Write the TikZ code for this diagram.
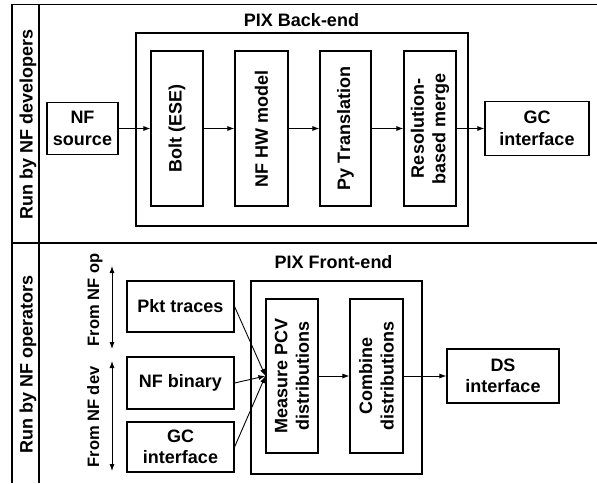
\documentclass[tikz,border=0pt]{standalone}
\usepackage{fontspec}
\setmainfont{Liberation Sans}
\usetikzlibrary{arrows.meta}

\begin{document}
\begin{tikzpicture}[x=1pt,y=-1pt,>={Latex[length=7pt,width=5pt]},every node/.style={font=\fontsize{18}{21.5}\selectfont\bfseries}]
\tikzstyle{b}=[draw,line width=1.1pt,inner sep=0,align=center]
\tikzstyle{v}=[b,rotate=90]
\tikzstyle{side}=[rotate=90,anchor=base]
\tikzstyle{fr}=[line width=1.6pt]
\tikzstyle{c}=[->,line width=0.9pt]
\useasboundingbox (0,0) rectangle (597,483);
% outer frame
\draw[fr] (597,4.5) -- (12,4.5) -- (12,483);
\draw[fr] (39,4.5) -- (39,483);
\draw[fr] (12,243) -- (597,243);
\node[side] (dev) at (32.5,124.5) {Run by NF developers};
\node[side] (ops) at (32.5,364.5) {Run by NF operators};
% back-end
\node[b,minimum width=332,minimum height=193] (be) at (302,129.5) {};
\node[anchor=base] (betitle) at (301.5,26) {PIX Back-end};
\node[b,minimum width=71,minimum height=52] (src) at (82.5,128.5) {NF\\source};
\node[v,minimum width=155,minimum height=52] (bolt) at (177,128.5) {Bolt (ESE)};
\node[v,minimum width=155,minimum height=53] (hw) at (261.5,128.5) {NF HW model};
\node[v,minimum width=155,minimum height=51] (py) at (345.5,128.5) {Py Translation};
\node[v,minimum width=155,minimum height=52] (res) at (430,128.5) {Resolution-\\based merge};
\node[b,minimum width=104,minimum height=54] (gct) at (537,128.5) {GC\\interface};
\draw[c] (src) -- (bolt);
\draw[c] (bolt) -- (hw);
\draw[c] (hw) -- (py);
\draw[c] (py) -- (res);
\draw[c] (res) -- (gct);
% front-end
\node[b,minimum width=171,minimum height=193] (fe) at (336.5,377.5) {};
\node[anchor=base] (fetitle) at (333.5,268) {PIX Front-end};
\node[v,minimum width=154,minimum height=52] (meas) at (292,376) {Measure PCV\\distributions};
\node[v,minimum width=154,minimum height=53] (comb) at (376.5,376) {Combine\\distributions};
\node[b,minimum width=112,minimum height=54] (ds) at (503,376) {DS\\interface};
\node[b,minimum width=107,minimum height=51] (pkt) at (180.5,306.5) {Pkt traces};
\node[b,minimum width=107,minimum height=52] (bin) at (180.5,383) {NF binary};
\node[b,minimum width=107,minimum height=50] (gcb) at (180.5,447) {GC\\interface};
\draw[c] (pkt.east) -- (meas.north);
\draw[c] (bin.east) -- (meas.north);
\draw[c] (gcb.east) -- (meas.north);
\draw[c] (meas) -- (comb);
\draw[c] (comb) -- (ds);
% sources
\coordinate (opa) at (112,266);
\coordinate (opb) at (112,349);
\coordinate (deva) at (112,361);
\coordinate (devb) at (112,471);
\draw[c,<->] (opa) -- (opb);
\draw[c,<->] (deva) -- (devb);
\node[side,font=\fontsize{16.5}{20}\selectfont\bfseries] (fromop) at (99,300) {From NF op};
\node[side,font=\fontsize{16.5}{20}\selectfont\bfseries] (fromdev) at (99,417) {From NF dev};
\end{tikzpicture}
\end{document}
